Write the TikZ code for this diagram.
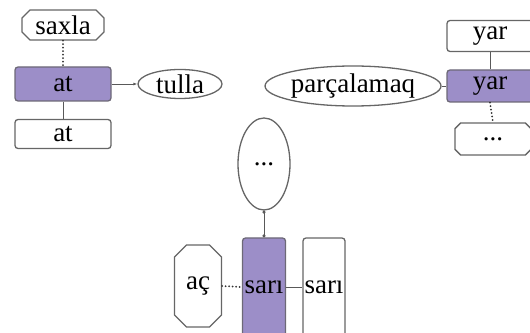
\documentclass[tikz,border=0pt]{standalone}
\usepackage{fontspec}
\setmainfont{Liberation Serif}
\usetikzlibrary{shapes.geometric,shapes.misc,arrows.meta}

\definecolor{headfill}{RGB}{156,142,200}
\tikzset{
    word/.style={draw=gray!80!black, line width=1.3pt, fill=white, inner sep=0pt,
        font=\fontsize{27}{29}\selectfont},
    headbox/.style={word, rectangle, rounded corners=3pt, fill=headfill, draw=gray!70!headfill!80!black},
    plainbox/.style={word, rectangle, rounded corners=3pt},
    cutbox/.style={word, chamfered rectangle, chamfered rectangle xsep=4pt, chamfered rectangle ysep=4pt},
    roundbox/.style={word, ellipse},
    link/.style={draw=gray!70!black, line width=0.8pt},
    dotlink/.style={link, draw=gray!40!black, line width=2pt, line cap=round, dash pattern=on 0pt off 3.5pt},
}

\begin{document}
\begin{tikzpicture}[x=1pt, y=1pt]
    \useasboundingbox (0,0) rectangle (530,332);

    % at
    \node[cutbox, minimum width=82pt, minimum height=30pt] (saxla) at (63,307) {saxla};
    \node[headbox, minimum width=96pt, minimum height=34pt] (at) at (63,248) {at};
    \node[roundbox, minimum width=84pt, minimum height=29pt] (tulla) at (180,248) {tulla};
    \node[plainbox, minimum width=96pt, minimum height=29pt] (atlow) at (63,198) {at};

    \draw[dotlink] (saxla.south) -- (at.north);
    \draw[link, -{Latex[length=4pt,width=3pt]}] (at.east) -- (tulla.west);
    \draw[link] (at.south) -- (atlow.north);

    % yar
    \node[plainbox, minimum width=86pt, minimum height=31pt] (yartop) at (490,296) {yar};
    \node[headbox, minimum width=86pt, minimum height=32pt] (yar) at (490,246) {yar};
    \node[roundbox, minimum width=133pt, minimum height=40pt] (parca) at (353,246) {parçalamaq};
    \node[cutbox, minimum width=76pt, minimum height=32pt] (yardots) at (493,193) {...};

    \draw[link] (yartop.south) -- (yar.north);
    \draw[link] (parca.east) -- (yar.west);
    \draw[dotlink] (yar.south) -- (yardots.north);

    % sari
    \node[roundbox, minimum width=52pt, minimum height=92pt] (sdots) at (264,168) {...};
    \node[headbox, minimum width=43pt, minimum height=98pt] (sari) at (264,45) {sarı};
    \node[cutbox, chamfered rectangle xsep=6pt, chamfered rectangle ysep=6pt,
          minimum width=47pt, minimum height=82pt] (ac) at (198,46) {aç};
    \node[plainbox, minimum width=42pt, minimum height=98pt] (sarir) at (324,45) {sarı};

    \draw[link, {Circle[length=3pt]}-{Circle[length=3pt]}] (sdots.south) -- (sari.north);
    \draw[dotlink] (ac.east) -- (sari.west);
    \draw[link] (sari.east) -- (sarir.west);
\end{tikzpicture}
\end{document}
